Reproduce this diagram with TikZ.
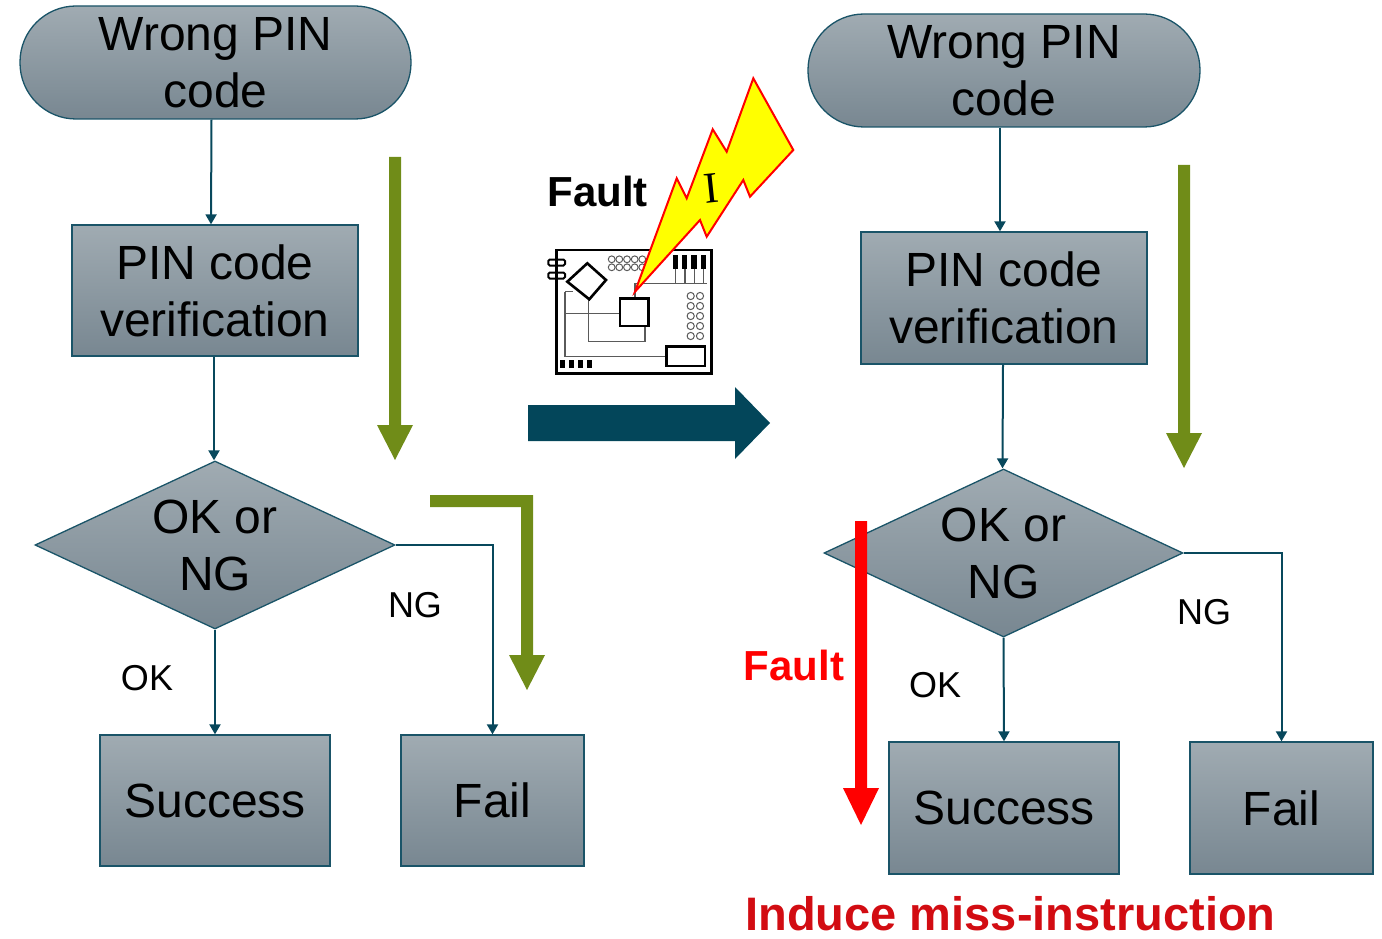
\documentclass[tikz,border=0pt]{standalone}
\usepackage{fontspec}
\setmainfont{Liberation Sans}
\newfontfamily\boltfont{Liberation Serif}
\usetikzlibrary{shapes.geometric,arrows.meta,calc}

\definecolor{boxtop}{RGB}{160,171,178}
\definecolor{boxbot}{RGB}{120,135,145}
\definecolor{edgeteal}{RGB}{26,84,104}
\definecolor{linkteal}{RGB}{8,72,92}
\definecolor{olivegreen}{RGB}{112,140,24}
\definecolor{bigteal}{RGB}{3,70,90}
\definecolor{faultred}{RGB}{255,0,0}
\definecolor{darkred}{RGB}{210,12,18}
\definecolor{boltyellow}{RGB}{255,255,0}
\definecolor{traceg}{RGB}{90,90,90}

\begin{document}
\begin{tikzpicture}[x=1pt,y=-1pt,
  flowbox/.style={draw=edgeteal, line width=1.3pt, top color=boxtop, bottom color=boxbot,
    inner sep=0pt, align=center, text=black, font=\fontsize{48}{57}\selectfont},
  termbox/.style={flowbox, rounded corners=56pt},
  decision/.style={flowbox, diamond, aspect=2.14},
  conn/.style={draw=linkteal, line width=2pt, -{Triangle[width=11pt,length=10pt]}},
  edgelabel/.style={font=\fontsize{36}{42}\selectfont, anchor=base, inner sep=0pt},
  trace/.style={draw=traceg, line width=1.2pt},
  part/.style={draw=black, line width=2.6pt},
  pad/.style={draw=traceg, line width=1pt},
]
\useasboundingbox (0,0) rectangle (1382,939);

% ---------- left flow: normal execution ----------
\node[termbox, minimum width=391pt, minimum height=113pt] (wrongL) at (215.5,62.5) {Wrong PIN\\code};
\node[flowbox, minimum width=286pt, minimum height=131pt] (verL) at (215,290.5) {PIN code\\verification};
\node[decision, minimum width=360pt, minimum height=168pt] (decL) at (215,545) {OK or\\NG};
\node[flowbox, minimum width=230pt, minimum height=131pt] (succL) at (215,800.5) {Success};
\node[flowbox, minimum width=183pt, minimum height=131pt] (failL) at (492.5,800.5) {Fail};

\draw[conn] ([xshift=-4pt]wrongL.south) -- ([xshift=-4pt]verL.north);
\draw[conn] ([xshift=-1pt]verL.south) -- ([xshift=-1pt]decL.north);
\draw[conn] (decL.south) -- (succL.north);
\draw[conn] (decL.east) -| (failL.north);

\node[edgelabel] (okL) at (147,690) {OK};
\node[edgelabel] (ngL) at (415,617) {NG};

% program flow (green)
\fill[olivegreen] (389,157) -- (401,157) -- (401,425) -- (413,425) -- (395,460)
  -- (377,425) -- (389,425) -- cycle;
\fill[olivegreen] (430,495) -- (533,495) -- (533,655) -- (545,655) -- (527,690)
  -- (509,655) -- (521,655) -- (521,507) -- (430,507) -- cycle;

% ---------- fault injection ----------
\fill[bigteal] (528,405) -- (735,405) -- (735,387) -- (770,423) -- (735,459)
  -- (735,441) -- (528,441) -- cycle;
\node[font=\bfseries\fontsize{42}{48}\selectfont, anchor=base, inner sep=0pt] (faultT) at (597.5,207) {Fault};

% circuit board
\draw[trace] (565,291.7) -- (573.3,291.7);
\draw[trace] (565,291.7) -- (565,356.7) -- (666.7,356.7);
\draw[trace] (565,313.3) -- (620,313.3);
\draw[trace] (588.3,296.7) -- (588.3,341.7) -- (645,341.7) -- (645,326);
\draw[trace] (635,298.3) -- (635,283.3) -- (706.7,283.3);
\foreach \px in {675.7,685,694.3,703.3} \draw[trace] (\px,269) -- (\px,283.3);
\foreach \cx in {611.7,619.3,627,634.7,642.3}
  \foreach \cy in {259.3,267.3} \draw[pad] (\cx,\cy) circle (3.4pt);
\foreach \cx in {690.7,700}
  \foreach \cy in {296,306,316,326,336} \draw[pad] (\cx,\cy) circle (3.6pt);
\foreach \px in {672.7,681.7,691.2,700.7} \fill[black] (\px,255) rectangle ++(5.6,14);
\foreach \px in {560,569.3,578.3,587.3} \fill[black] (\px,360) rectangle ++(5,8.3);
\draw[part] (556.7,250) rectangle (711.7,373.3);
\draw[part, line width=2pt, rounded corners=1.5pt] (548.3,259.5) rectangle (565,265.5);
\draw[part, line width=2pt, rounded corners=1.5pt] (548.3,272.5) rectangle (565,278.5);
\draw[part, fill=white] (587.3,263.3) -- (606,280) -- (589.3,299.3) -- (567.3,281.7) -- cycle;
\draw[part, fill=white] (620,298.3) rectangle (648.3,326);
\draw[part, fill=white] (666.7,346.7) rectangle (705,366);

% lightning bolt
\draw[draw=faultred, line width=2pt, fill=boltyellow, line join=miter]
  (635,291.7) -- (676.7,178.3) -- (686.7,198.3) -- (712.7,129.3) -- (726.7,151.7)
  -- (753.3,78.3) -- (793.3,150) -- (750,196.7) -- (743.3,180) -- (706.7,236.7)
  -- (700,220) -- cycle;
\node[font=\boltfont\fontsize{44}{50}\selectfont, rotate=6, inner sep=0pt] (boltI) at (711,188) {I};

% ---------- right flow: faulted execution ----------
\node[termbox, minimum width=392pt, minimum height=113pt] (wrongR) at (1004,70.5) {Wrong PIN\\code};
\node[flowbox, minimum width=286pt, minimum height=132pt] (verR) at (1004,298) {PIN code\\verification};
\node[decision, minimum width=359pt, minimum height=168pt] (decR) at (1003.5,553) {OK or\\NG};
\node[flowbox, minimum width=230pt, minimum height=132pt] (succR) at (1004,808) {Success};
\node[flowbox, minimum width=183pt, minimum height=132pt] (failR) at (1281.5,808) {Fail};

\draw[conn] ([xshift=-4pt]wrongR.south) -- ([xshift=-4pt]verR.north);
\draw[conn] ([xshift=-1pt]verR.south) -- ([xshift=-1pt]decR.north);
\draw[conn] (decR.south) -- (succR.north);
\draw[conn] (decR.east) -| (failR.north);

\node[edgelabel] (okR) at (935,697.5) {OK};
\node[edgelabel] (ngR) at (1204,624.5) {NG};

\fill[olivegreen] (1178,165) -- (1190,165) -- (1190,433) -- (1202,433) -- (1184,468)
  -- (1166,433) -- (1178,433) -- cycle;

% skipped branch
\fill[faultred] (855,521) -- (867,521) -- (867,788) -- (879,788) -- (861,825)
  -- (843,788) -- (855,788) -- cycle;
\node[font=\bfseries\fontsize{42}{48}\selectfont, text=faultred, anchor=base, inner sep=0pt] (faultR) at (794,680) {Fault};

\node[font=\bfseries\fontsize{47}{56}\selectfont, text=darkred, anchor=base, inner sep=0pt] (induce) at (1010.5,930) {Induce miss-instruction};
\end{tikzpicture}
\end{document}
